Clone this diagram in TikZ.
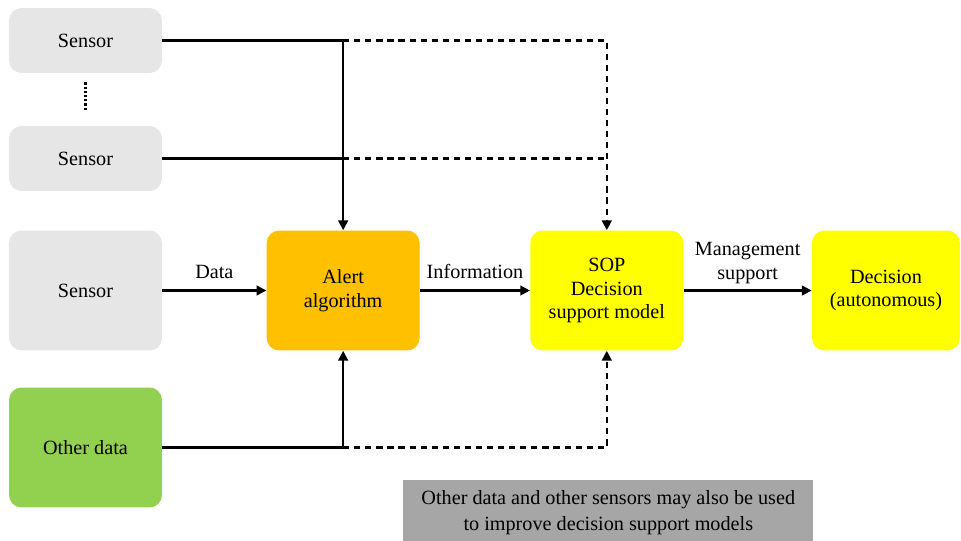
\documentclass[tikz,border=0pt]{standalone}
\usepackage{fontspec}
\setmainfont{Liberation Serif}
\usetikzlibrary{positioning,arrows.meta}
\definecolor{sensorgrey}{HTML}{E7E6E6}
\definecolor{othergreen}{HTML}{92D050}
\definecolor{alertorange}{HTML}{FFC000}
\definecolor{sopyellow}{HTML}{FFFF00}
\definecolor{notegrey}{HTML}{A6A6A6}
\tikzstyle{link} = [line width=1.2pt]
\tikzstyle{arrow} = [link,-{Triangle[length=5.5pt,width=5.5pt]}]
\tikzstyle{dashlink} = [link, dash pattern=on 3.5pt off 2.8pt]
\tikzstyle{dasharrow} = [arrow, dash pattern=on 3.5pt off 2.8pt]
\tikzstyle{block} = [rectangle, rounded corners=0.25cm, 
    minimum width=3.06cm, minimum height=2.4cm, align=center]

\begin{document}
\begin{tikzpicture}[x=0.02cm, y=-0.02cm, font=\fontsize{11.5}{13.6}\selectfont]
    \useasboundingbox (0,0) rectangle (961,541);
    % inputs on the left
    \node [block, fill=sensorgrey, minimum height=1.3cm] (sensora) at (85.5,40.5) {Sensor};
    \node [block, fill=sensorgrey, minimum height=1.3cm] (sensorb) at (85.5,158.5) {Sensor};
    \node [block, fill=sensorgrey] (sensorc) at (85.5,290.5) {Sensor};
    \node [block, fill=othergreen] (other) at (85.5,447.5) {Other data};
    \draw [line width=1.5pt, dash pattern=on 1.3pt off 1.1pt]
        ([yshift=-0.18cm]sensora.south) -- ([yshift=0.28cm]sensorb.north);
    % main chain
    \node [block, fill=alertorange, right=2.08cm of sensorc] (alert) {Alert\\algorithm};
    \node [block, fill=sopyellow, right=2.2cm of alert] (sop) {SOP\\Decision\\support model};
    \node [block, fill=sopyellow, minimum width=2.96cm, right=2.56cm of sop] (decision) {Decision\\(autonomous)};
    \node [fill=notegrey, minimum width=8.2cm, minimum height=1.3cm, align=center,
        anchor=north west, font=\fontsize{11.5}{14.7}\selectfont] (note) at (403,480)
        {Other data and other sensors may also be used\\to improve decision support models};

    \coordinate (ja) at (alert.north |- sensora.east);
    \coordinate (jb) at (alert.north |- sensorb.east);
    \coordinate (jc) at (alert.south |- other.east);

    \draw [link] (sensora.east) -- (ja);
    \draw [link] (sensorb.east) -- (jb);
    \draw [arrow] (ja) -- (alert.north);
    \draw [link] (other.east) -- (jc);
    \draw [arrow] (jc) -- (alert.south);
    \draw [dasharrow] (ja) -- (ja -| sop.north) -- (sop.north);
    \draw [dashlink] (jb) -- (jb -| sop.north);
    \draw [dasharrow] (jc) -- (jc -| sop.south) -- (sop.south);

    \draw [arrow] (sensorc) -- node [above=3pt] {Data} (alert);
    \draw [arrow] (alert) -- node [above=3pt] {Information} (sop);
    \draw [arrow] (sop) -- node [above, align=center] {Management\\support} (decision);
\end{tikzpicture}
\end{document}
